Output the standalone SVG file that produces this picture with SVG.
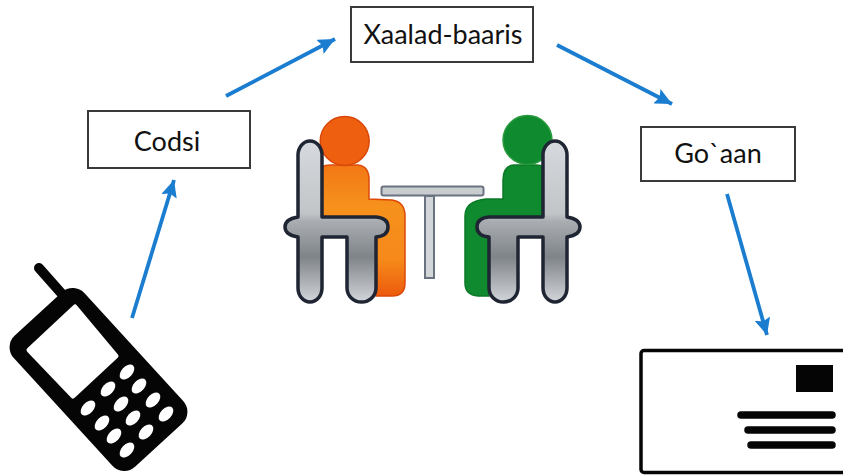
<svg xmlns="http://www.w3.org/2000/svg" width="843" height="476" viewBox="0 0 843 476">
<style>
.box{fill:#fff;stroke:#3a3a3a;stroke-width:2}
.lbl{font-family:"Lato","Carlito","Liberation Sans",sans-serif;font-size:27px;fill:#111;text-anchor:middle}
.conn{fill:none;stroke:#1b7dd0;stroke-width:3.800;marker-end:url(#ah)}
.chair{fill:url(#steel);stroke:#1f2533;stroke-width:3.500;stroke-linejoin:round}
.ink{fill:#050505}
.key{fill:#fff}
.bar{stroke:#050505;stroke-width:7.500;stroke-linecap:round}
</style>
<defs>
<marker id="ah" markerUnits="userSpaceOnUse" markerWidth="18" markerHeight="16" refX="17" refY="8" orient="auto"><path d="M0,0L17,8L0,16L3,8Z" fill="#1b7dd0"/></marker>
<linearGradient id="steel" gradientUnits="userSpaceOnUse" x1="0" y1="141" x2="0" y2="302">
<stop offset="0" stop-color="#d6d9dd"/><stop offset=".45" stop-color="#c2c5c8"/><stop offset=".5" stop-color="#a9adb1"/><stop offset=".72" stop-color="#7f8489"/><stop offset="1" stop-color="#d2d5d9"/>
</linearGradient>
<linearGradient id="or" gradientUnits="userSpaceOnUse" x1="0" y1="117" x2="0" y2="296"><stop offset="0" stop-color="#ee5a0e"/><stop offset=".5" stop-color="#f6911c"/><stop offset=".8" stop-color="#f6891a"/><stop offset="1" stop-color="#ec5a0c"/></linearGradient>
<path id="chairShape" d="M298,155A12,14 0 0 1 322,155L322,217L376,217Q388,218 388,227Q388,236 376,237L376,288A14.500,14 0 0 1 347,288L347,237L322,237L322,288A12,14 0 0 1 298,288L298,237Q285,235 285,227Q285,219 298,217Z"/>
</defs>
<rect width="843" height="476" fill="#fff"/>
<g id="connectors">
<line class="conn" x1="132" y1="318" x2="174" y2="180"/>
<line class="conn" x1="226" y1="96" x2="335" y2="39"/>
<line class="conn" x1="557" y1="45" x2="672" y2="104"/>
<line class="conn" x1="727" y1="194" x2="767" y2="335"/>
</g>
<g id="node-codsi"><rect class="box" x="88" y="111" width="162" height="57"/><text class="lbl" x="167" y="151">Codsi</text></g>
<g id="node-xaalad"><rect class="box" x="351" y="7" width="182" height="55"/><text class="lbl" x="443" y="44">Xaalad-baaris</text></g>
<g id="node-goaan"><rect class="box" x="641" y="127" width="154" height="54"/><text class="lbl" x="718" y="163">Go`aan</text></g>
<g id="node-meeting">
<rect x="381.500" y="186.500" width="102" height="9" rx="2" fill="#c9cdd0" stroke="#6b7280" stroke-width="2"/>
<rect x="425" y="196" width="9" height="82" fill="#d3d6d8" stroke="#6b7280" stroke-width="2"/>
<path d="M320,172Q320,165 330,165L358,165Q369,166 369,180L369,199L392,200Q405,202 405,216L405,283Q405,296 392,296L376,296L376,217L320,217Z" fill="url(#or)" stroke="#dd4a08" stroke-width="1.500"/>
<circle cx="344.700" cy="141" r="24.500" fill="#ee5f10" stroke="#d9480a" stroke-width="1.500"/>
<use href="#chairShape" class="chair"/>
<path d="M546,172L546,217L489,217L489,296L478,296Q465,295 465,283L465,216Q465,201 486,199L503,199L503,180Q503,166 514,165L536,165Q546,165 546,172Z" fill="#0f8a2e" stroke="#0b7a28" stroke-width="1.500"/>
<circle cx="527.500" cy="140" r="24.500" fill="#0f8a2e" stroke="#2a9a3e" stroke-width="1.500"/>
<use href="#chairShape" class="chair" transform="translate(865,0) scale(-1,1)"/>
</g>
<g id="node-phone">
<line x1="39" y1="268" x2="62" y2="294" stroke="#050505" stroke-width="10" stroke-linecap="round"/>
<rect class="ink" x="-89" y="-48" width="178" height="96" rx="16" transform="translate(98.500,379.500) rotate(47.500)"/>
<path d="M75,307L116,356L73,396L29,350Z" fill="#fff" stroke="#fff" stroke-width="5" stroke-linejoin="round"/>
<g class="key">
<ellipse cx="127" cy="372" rx="9" ry="5.500" transform="rotate(-47 127 372)"/>
<ellipse cx="108" cy="389" rx="9" ry="5.500" transform="rotate(-47 108 389)"/>
<ellipse cx="88" cy="408" rx="9" ry="5.500" transform="rotate(-47 88 408)"/>
<ellipse cx="139" cy="386" rx="9" ry="5.500" transform="rotate(-47 139 386)"/>
<ellipse cx="121" cy="404" rx="9" ry="5.500" transform="rotate(-47 121 404)"/>
<ellipse cx="102" cy="423" rx="9" ry="5.500" transform="rotate(-47 102 423)"/>
<ellipse cx="153" cy="400" rx="9" ry="5.500" transform="rotate(-47 153 400)"/>
<ellipse cx="133" cy="418" rx="9" ry="5.500" transform="rotate(-47 133 418)"/>
<ellipse cx="114" cy="436" rx="9" ry="5.500" transform="rotate(-47 114 436)"/>
<ellipse cx="166" cy="414" rx="9" ry="5.500" transform="rotate(-47 166 414)"/>
<ellipse cx="146" cy="432" rx="9" ry="5.500" transform="rotate(-47 146 432)"/>
<ellipse cx="127" cy="450" rx="9" ry="5.500" transform="rotate(-47 127 450)"/>
</g>
</g>
<g id="node-envelope">
<rect x="641" y="350.500" width="210" height="122" rx="3" fill="#fff" stroke="#050505" stroke-width="3.500"/>
<rect class="ink" x="796" y="365" width="37" height="27"/>
<line class="bar" x1="741" y1="415" x2="832" y2="415"/>
<line class="bar" x1="748" y1="430" x2="832" y2="430"/>
<line class="bar" x1="751" y1="445" x2="832" y2="445"/>
</g>
</svg>
